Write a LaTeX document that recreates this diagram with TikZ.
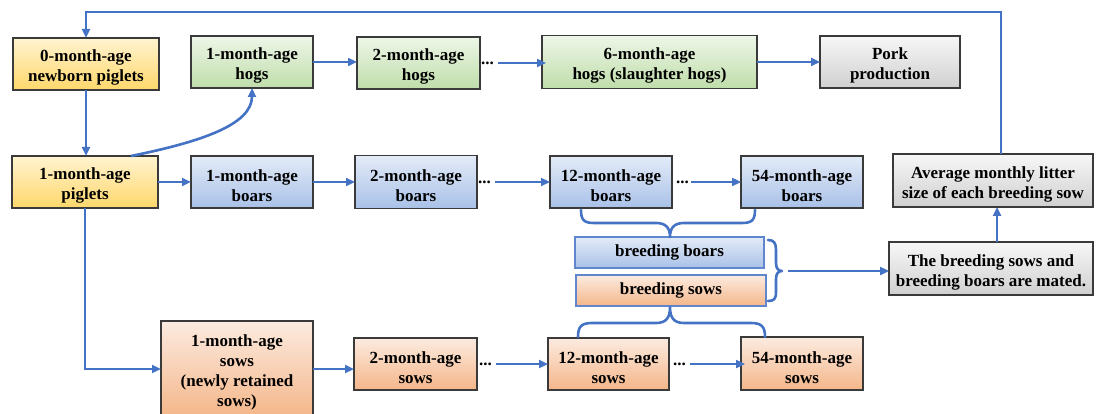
\documentclass[tikz,border=0pt]{standalone}
\usepackage{fontspec}
\setmainfont{Liberation Serif}
\usetikzlibrary{arrows.meta}

\definecolor{flow}{HTML}{4472C4}
\definecolor{boxline}{HTML}{3A3A3A}
\definecolor{yelT}{HTML}{FFF3D0}\definecolor{yelB}{HTML}{FFD86B}
\definecolor{grnT}{HTML}{EEF6E8}\definecolor{grnB}{HTML}{BFDDAA}
\definecolor{bluT}{HTML}{E3EBF7}\definecolor{bluB}{HTML}{A9C1E8}
\definecolor{orgT}{HTML}{FCEBE0}\definecolor{orgB}{HTML}{F4B689}
\definecolor{gryT}{HTML}{F7F7F7}\definecolor{gryB}{HTML}{D0D0D0}

% taller first line, so that two-line labels sit a little low in their boxes
\newcommand\firstline{\rule{0pt}{19.5pt}}

\tikzset{
  box/.style={draw=boxline, line width=1.8pt, inner sep=0pt, outer sep=0pt,
    align=center, font=\fontsize{17}{20}\selectfont\bfseries},
  yel/.style={box, top color=yelT, bottom color=yelB},
  grn/.style={box, top color=grnT, bottom color=grnB},
  blu/.style={box, top color=bluT, bottom color=bluB},
  org/.style={box, top color=orgT, bottom color=orgB},
  gry/.style={box, top color=gryT, bottom color=gryB},
  breedbox/.style={box, draw=flow!85, line width=1.4pt},
  dots/.style={inner sep=0pt, outer sep=0pt, anchor=west, font=\fontsize{17}{20}\selectfont\bfseries},
  flowline/.style={draw=flow, line width=2.6pt, -{Triangle[length=9pt,width=8pt]}},
  bracel/.style={draw=flow, line width=2.6pt, line cap=round, line join=round},
}

\begin{document}
\begin{tikzpicture}[x=1pt,y=-1pt]
\useasboundingbox[fill=white] (0,0) rectangle (1100,414);

% hog line
\node[yel, minimum width=146pt, minimum height=52pt] (n0) at (86,64) {\firstline 0-month-age\\newborn piglets};
\node[grn, minimum width=122pt, minimum height=52pt] (h1) at (252,62) {\firstline 1-month-age\\hogs};
\node[grn, minimum width=123pt, minimum height=52pt] (h2) at (418.5,63) {\firstline 2-month-age\\hogs};
\node[grn, minimum width=215pt, minimum height=53pt] (h6) at (649.5,62) {\firstline 6-month-age\\hogs (slaughter hogs)};
\node[gry, minimum width=140pt, minimum height=52pt] (pork) at (890,62) {\firstline Pork\\production};

% boar line
\node[yel, minimum width=146pt, minimum height=52pt] (p1) at (85,182) {\firstline 1-month-age\\piglets};
\node[blu, minimum width=122pt, minimum height=52pt] (b1) at (252,182) {\firstline 1-month-age\\boars};
\node[blu, minimum width=122pt, minimum height=53pt] (b2) at (416,182) {\firstline 2-month-age\\boars};
\node[blu, minimum width=122pt, minimum height=52pt] (b12) at (611,182) {\firstline 12-month-age\\boars};
\node[blu, minimum width=122pt, minimum height=52pt] (b54) at (802,182) {\firstline 54-month-age\\boars};
\node[gry, minimum width=200pt, minimum height=53pt] (avg) at (993,180.5) {\firstline Average monthly litter\\size of each breeding sow};

% breeding stock
\node[breedbox, top color=bluT, bottom color=bluB, minimum width=189pt, minimum height=31pt] (bb) at (669.5,252.5) {breeding boars};
\node[breedbox, top color=orgT, bottom color=orgB, minimum width=190pt, minimum height=31pt] (bs) at (671,290.5) {breeding sows};
\node[gry, minimum width=204pt, minimum height=53pt] (mate) at (991,268.5) {\firstline The breeding sows and\\breeding boars are mated.};

% sow line
\node[org, minimum width=152pt, minimum height=96pt] (s1) at (237,369) {\firstline 1-month-age\\sows\\(newly retained\\sows)};
\node[org, minimum width=123pt, minimum height=52pt] (s2) at (415.5,364) {\firstline 2-month-age\\sows};
\node[org, minimum width=121pt, minimum height=52pt] (s12) at (608.5,364) {\firstline 12-month-age\\sows};
\node[org, minimum width=122pt, minimum height=53pt] (s54) at (802,363.5) {\firstline 54-month-age\\sows};

% ellipses between ages
\node[dots] (h2d) at ([xshift=1pt]h2.east) {...};
\node[dots] (b2d) at ([xshift=1pt]b2.east) {...};
\node[dots] (b12d) at ([xshift=4pt]b12.east) {...};
\node[dots] (s2d) at ([xshift=2pt]s2.east) {...};
\node[dots] (s12d) at ([xshift=4pt]s12.east) {...};

% hog arrows
\draw[flowline] (h1.east) -- (h1.east -| h2.west);
\draw[flowline] ([xshift=4pt]h2d.east) -- ([xshift=4pt]h2d.east -| h6.west);
\draw[flowline] (h6.east) -- (pork.west);

% boar arrows
\draw[flowline] (p1.east) -- (b1.west);
\draw[flowline] (b1.east) -- (b2.west);
\draw[flowline] ([xshift=4pt]b2d.east) -- (b12.west);
\draw[flowline] ([xshift=2pt]b12d.east) -- (b54.west);

% sow arrows
\draw[flowline] (p1.south) |- (s1.west);
\draw[flowline] (s1.east) -- (s1.east -| s2.west);
\draw[flowline] ([xshift=4pt]s2d.east) -- (s12.west);
\draw[flowline] ([xshift=4pt]s12d.east) -- ([xshift=4pt]s12d.east -| s54.west);

% piglets
\draw[flowline] (n0.south) -- (n0.south |- p1.north);
\coordinate (pc) at (131,156);
\draw[flowline] (pc) .. controls (200,142) and (252,125) .. (h1.south);

% litter feedback
\coordinate (loopR) at (1001,12);
\draw[flowline] (avg.north -| loopR) -- (loopR) -| (n0.north);
\coordinate (up) at (997,242);
\draw[flowline] (up) -- (up |- avg.south);

% braces grouping breeding stock
\draw[bracel] (581,210) .. controls (581,220) and (584,223) .. (594,223) -- (656,223)
  .. controls (666,223) and (670,228) .. (670,237)
  .. controls (670,228) and (674,223) .. (684,223) -- (742,223)
  .. controls (752,223) and (755,220) .. (755,210);
\draw[bracel] (578,337) .. controls (578,327) and (581,323) .. (592,323) -- (656,323)
  .. controls (666,323) and (670,318) .. (670,307)
  .. controls (670,318) and (674,323) .. (684,323) -- (751,323)
  .. controls (762,323) and (765,327) .. (765,337);
\draw[bracel] (768,240) .. controls (774,240) and (776,243) .. (776,250) -- (776,263)
  .. controls (776,268) and (778,271) .. (782,271)
  .. controls (778,271) and (776,274) .. (776,279) -- (776,292)
  .. controls (776,299) and (774,301) .. (768,301);
\coordinate (bt) at (788,271);
\draw[flowline] (bt) -- (bt -| mate.west);
\end{tikzpicture}
\end{document}
